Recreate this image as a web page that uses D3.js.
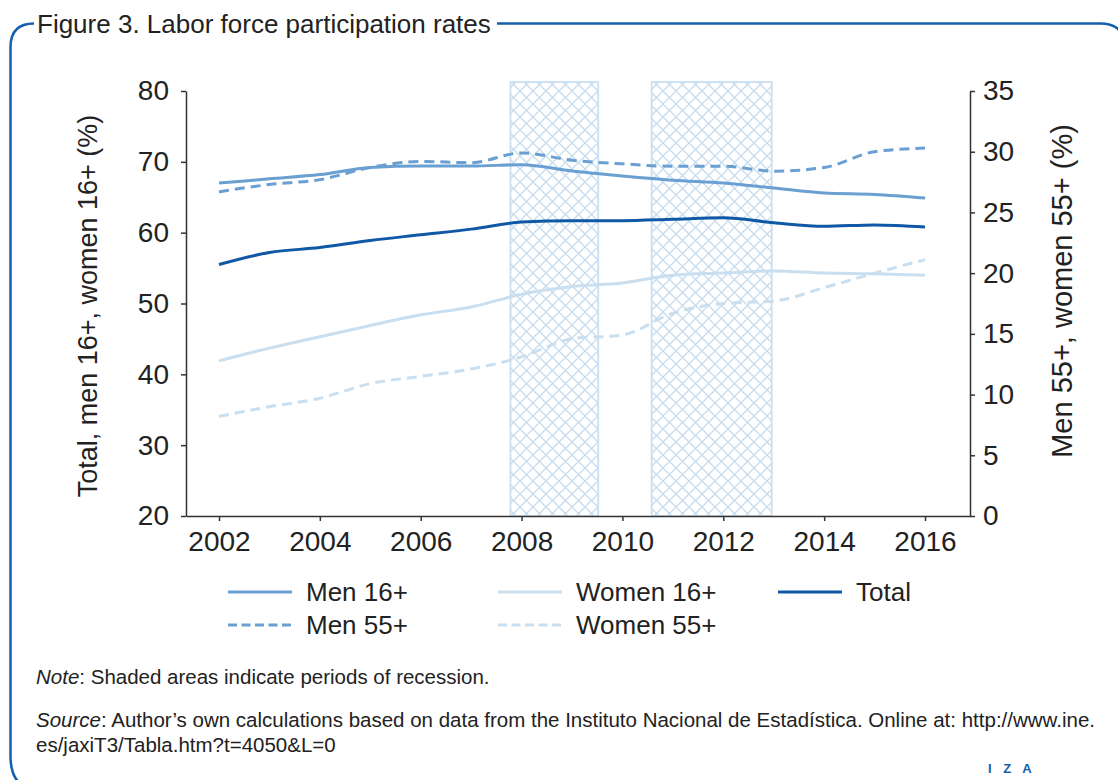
<!DOCTYPE html>
<html>
  <head>
    <title>Labor force participation rates</title>
    <script src="https://d3js.org/d3.v7.min.js"></script>
    <style>
      body { margin: 0; background: #fff; }
      svg { display: block; }
    </style>
  </head>
  <body>
    <svg id="chart"></svg>
    <script>
      // data
      var years = [2002, 2003, 2004, 2005, 2006, 2007, 2008, 2009, 2010, 2011, 2012, 2013, 2014, 2015, 2016];
      var men16 = [67.0, 67.6, 68.2, 69.2, 69.4, 69.4, 69.6, 68.7, 68.0, 67.4, 67.0, 66.3, 65.6, 65.4, 64.9];
      var women16 = [41.9, 43.7, 45.3, 46.9, 48.4, 49.5, 51.3, 52.4, 52.9, 54.0, 54.3, 54.6, 54.3, 54.2, 54.0];
      var total = [55.5, 57.2, 57.9, 58.9, 59.7, 60.5, 61.5, 61.7, 61.7, 61.9, 62.1, 61.4, 60.9, 61.1, 60.8];
      var men55 = [26.7, 27.3, 27.7, 28.7, 29.2, 29.1, 29.9, 29.3, 29.0, 28.8, 28.8, 28.4, 28.7, 30.0, 30.3];
      var women55 = [8.2, 9.0, 9.7, 10.9, 11.5, 12.1, 13.1, 14.6, 14.9, 16.7, 17.5, 17.7, 18.8, 20.0, 21.1];
      var recessions = [[2007.78, 2009.52], [2010.58, 2012.96]];
      var xTicks = [2002, 2004, 2006, 2008, 2010, 2012, 2014, 2016];
      var leftTicks = [20, 30, 40, 50, 60, 70, 80];
      var rightTicks = [0, 5, 10, 15, 20, 25, 30, 35];

      var W = 1118, H = 780;
      var font = "'Liberation Sans', Arial, sans-serif";
      var frameBlue = "#1560ac";

      var series = [
        { name: "Men 16+", values: men16, axis: "left", color: "#6a9fd2", dash: null },
        { name: "Women 16+", values: women16, axis: "left", color: "#c9dfef", dash: null },
        { name: "Total", values: total, axis: "left", color: "#0f58a6", dash: null },
        { name: "Men 55+", values: men55, axis: "right", color: "#6a9fd2", dash: "10,6" },
        { name: "Women 55+", values: women55, axis: "right", color: "#c9dfef", dash: "10,6" }
      ];

      var svg = d3.select("#chart").attr("width", W).attr("height", H);

      // scales
      var x = d3.scaleLinear().domain([2001.346, 2016.892]).range([186, 970]);
      var yL = d3.scaleLinear().domain([20, 80]).range([516, 91]);
      var yR = d3.scaleLinear().domain([0, 35]).range([516, 91]);

      // hatch pattern for recessions
      var defs = svg.append("defs");
      var pat = defs.append("pattern")
        .attr("id", "hatch")
        .attr("patternUnits", "userSpaceOnUse")
        .attr("width", 13)
        .attr("height", 13);
      pat.append("path")
        .attr("d", "M0,0L13,13M13,0L0,13M-1,12L1,14M12,-1L14,1")
        .attr("stroke", "#c6dcee")
        .attr("stroke-width", 1.3)
        .attr("fill", "none");

      svg.append("g")
        .selectAll("rect")
        .data(recessions)
        .enter()
        .append("rect")
        .attr("x", function (d) { return x(d[0]); })
        .attr("y", 82)
        .attr("width", function (d) { return x(d[1]) - x(d[0]); })
        .attr("height", yL(20) - 82)
        .attr("fill", "url(#hatch)")
        .attr("stroke", "#c9dff0")
        .attr("stroke-width", 1.8);

      // lines
      var g = svg.append("g");
      series.forEach(function (s) {
        var yy = s.axis == "left" ? yL : yR;
        var line = d3.line()
          .curve(d3.curveMonotoneX)
          .x(function (d, i) { return x(years[i]); })
          .y(function (d) { return yy(d); });
        g.append("path")
          .datum(s.values)
          .attr("d", line)
          .attr("fill", "none")
          .attr("stroke", s.color)
          .attr("stroke-width", 3)
          .attr("stroke-dasharray", s.dash);
      });

      // axes
      function styleAxis(sel) {
        sel.select(".domain").attr("stroke", "#333").attr("stroke-width", 1.5);
        sel.selectAll(".tick line").attr("stroke", "#333").attr("stroke-width", 1.5);
        sel.selectAll("text")
          .attr("fill", "#222")
          .attr("font-family", font)
          .attr("font-size", 28);
      }

      svg.append("g")
        .attr("transform", "translate(0,516)")
        .call(d3.axisBottom(x).tickValues(xTicks).tickFormat(d3.format("d")).tickSize(5).tickSizeOuter(0).tickPadding(10))
        .call(styleAxis);

      svg.append("g")
        .attr("transform", "translate(186,0)")
        .call(d3.axisLeft(yL).tickValues(leftTicks).tickSize(5).tickSizeOuter(0).tickPadding(12))
        .call(styleAxis);

      svg.append("g")
        .attr("transform", "translate(970,0)")
        .call(d3.axisRight(yR).tickValues(rightTicks).tickSize(5).tickSizeOuter(0).tickPadding(8))
        .call(styleAxis);

      // axis titles
      svg.append("text")
        .attr("transform", "translate(97,306) rotate(-90)")
        .attr("text-anchor", "middle")
        .attr("font-family", font)
        .attr("font-size", 27)
        .attr("fill", "#222")
        .text("Total, men 16+, women 16+ (%)");

      svg.append("text")
        .attr("transform", "translate(1072,291) rotate(-90)")
        .attr("text-anchor", "middle")
        .attr("font-family", font)
        .attr("font-size", 29)
        .attr("fill", "#222")
        .text("Men 55+, women 55+ (%)");

      // legend
      var legendPos = [[228, 592], [498, 592], [778, 592], [228, 625], [498, 625]];
      var legend = svg.append("g")
        .selectAll("g")
        .data(series)
        .enter()
        .append("g")
        .attr("transform", function (d, i) { return "translate(" + legendPos[i][0] + "," + legendPos[i][1] + ")"; });
      legend.append("line")
        .attr("x1", 0)
        .attr("x2", 64)
        .attr("stroke", function (d) { return d.color; })
        .attr("stroke-width", 3)
        .attr("stroke-dasharray", function (d) { return d.dash ? "9,4.5" : null; });
      legend.append("text")
        .attr("x", 78)
        .attr("dy", "0.36em")
        .attr("font-family", font)
        .attr("font-size", 26)
        .attr("fill", "#222")
        .text(function (d) { return d.name; });

      // frame + title
      svg.append("path")
        .attr("d", "M34,23.5 Q10.5,23.5 10.5,47 L10.5,756 Q10.5,790 40,790")
        .attr("fill", "none")
        .attr("stroke", frameBlue)
        .attr("stroke-width", 2.5);
      svg.append("path")
        .attr("d", "M497,23.5 L1100,23.5 Q1125,23.5 1125,48")
        .attr("fill", "none")
        .attr("stroke", frameBlue)
        .attr("stroke-width", 2.5);

      svg.append("text")
        .attr("x", 37)
        .attr("y", 33)
        .attr("font-family", font)
        .attr("font-size", 26)
        .attr("fill", "#222")
        .text("Figure 3. Labor force participation rates");

      // notes
      var note = svg.append("text")
        .attr("x", 36)
        .attr("y", 684)
        .attr("font-family", font)
        .attr("font-size", 20.5)
        .attr("fill", "#222");
      note.append("tspan").attr("font-style", "italic").text("Note");
      note.append("tspan").text(": Shaded areas indicate periods of recession.");

      var src = svg.append("text")
        .attr("x", 36)
        .attr("y", 727)
        .attr("font-family", font)
        .attr("font-size", 20.5)
        .attr("fill", "#222");
      src.append("tspan").attr("font-style", "italic").text("Source");
      src.append("tspan").text(": Author\u2019s own calculations based on data from the Instituto Nacional de Estad\u00edstica. Online at: http://www.ine.");
      svg.append("text")
        .attr("x", 36)
        .attr("y", 752)
        .attr("font-family", font)
        .attr("font-size", 20.5)
        .attr("fill", "#222")
        .text("es/jaxiT3/Tabla.htm?t=4050&L=0");

      // logo
      svg.append("text")
        .attr("x", 988)
        .attr("y", 773)
        .attr("font-family", font)
        .attr("font-size", 13)
        .attr("font-weight", "bold")
        .attr("letter-spacing", 4)
        .attr("fill", frameBlue)
        .text("I Z A");
    </script>
  </body>
</html>
